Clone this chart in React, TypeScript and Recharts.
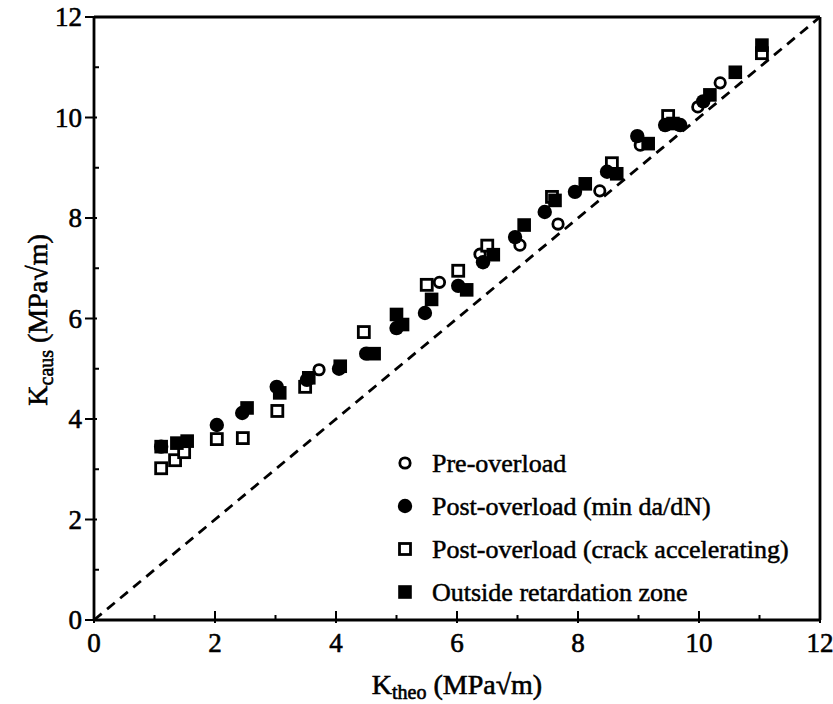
import React from 'react';
import { ScatterChart, Scatter, XAxis, YAxis, ReferenceLine, Legend } from 'recharts';

const FONT = '"Liberation Serif", "Times New Roman", serif';

const axisTicks = [0, 1, 2, 3, 4, 5, 6, 7, 8, 9, 10, 11, 12];
const seriesNames = [
  'Pre-overload',
  'Post-overload (min da/dN)',
  'Post-overload (crack accelerating)',
  'Outside retardation zone',
];

// Pre-overload (open circles)
const preX = [3.72, 5.71, 6.38, 7.04, 7.67, 8.36, 9.03, 9.98, 10.35];
const preY = [4.98, 6.72, 7.28, 7.46, 7.88, 8.54, 9.45, 10.21, 10.69];

// Post-overload (min da/dN) (filled circles)
const minX = [1.11, 2.03, 2.45, 3.02, 3.52, 4.05, 4.5, 5.0, 5.47, 6.02, 6.43, 6.96, 7.45, 7.95, 8.48, 8.98, 9.44, 9.69, 10.07];
const minY = [3.45, 3.88, 4.12, 4.64, 4.78, 5.0, 5.3, 5.81, 6.11, 6.65, 7.12, 7.62, 8.12, 8.52, 8.92, 9.63, 9.85, 9.85, 10.32];

// Post-overload (crack accelerating) (open squares)
const accX = [1.11, 1.34, 1.49, 2.03, 2.46, 3.03, 3.49, 4.46, 5.5, 6.02, 6.5, 7.57, 8.56, 9.49, 11.04];
const accY = [3.02, 3.18, 3.34, 3.6, 3.62, 4.16, 4.64, 5.73, 6.67, 6.95, 7.45, 8.42, 9.09, 10.03, 11.28];

// Outside retardation zone (filled squares)
const outX = [1.11, 1.37, 1.54, 2.53, 3.07, 3.55, 4.07, 4.63, 5.0, 5.1, 5.58, 6.16, 6.6, 7.11, 7.62, 8.12, 8.64, 9.16, 9.57, 10.18, 10.6, 11.04];
const outY = [3.45, 3.52, 3.56, 4.22, 4.52, 4.82, 5.05, 5.3, 6.08, 5.88, 6.38, 6.57, 7.27, 7.86, 8.35, 8.68, 8.88, 9.48, 9.88, 10.45, 10.9, 11.44];

const toPoints = (xs: number[], ys: number[]) => xs.map((x, i) => ({ x, y: ys[i] }));

const preData = toPoints(preX, preY);
const minData = toPoints(minX, minY);
const accData = toPoints(accX, accY);
const outData = toPoints(outX, outY);

const OpenCircle = (p: any) => (
  <circle cx={p.cx} cy={p.cy} r={5.2} fill="#fff" stroke="#000" strokeWidth={2.8} />
);
const FilledCircle = (p: any) => <circle cx={p.cx} cy={p.cy} r={7.2} fill="#000" />;
const OpenSquare = (p: any) => (
  <rect x={p.cx - 5.5} y={p.cy - 5.5} width={11} height={11} fill="#fff" stroke="#000" strokeWidth={2.8} />
);
const FilledSquare = (p: any) => <rect x={p.cx - 6.8} y={p.cy - 6.8} width={13.6} height={13.6} fill="#000" />;

const legendShapes = [OpenCircle, FilledCircle, OpenSquare, FilledSquare];

const textInk = { stroke: '#000', strokeWidth: 0.6 };

const BottomTick = (props: any) => {
  const { x, y, payload } = props;
  const v = payload.value;
  const major = v % 2 === 0;
  return (
    <g>
      <line x1={x} x2={x} y1={y + (major ? 3 : 0)} y2={y - (major ? 9 : 5)} stroke="#000" strokeWidth={2} />
      {major && (
        <text x={x} y={y + 32} textAnchor="middle" fontSize={27} fontFamily={FONT} fill="#000" {...textInk}>
          {v}
        </text>
      )}
    </g>
  );
};

const LeftTick = (props: any) => {
  const { x, y, payload } = props;
  const v = payload.value;
  const major = v % 2 === 0;
  return (
    <g>
      <line x1={major ? x - 9 : x} x2={major ? x + 3 : x + 5} y1={y} y2={y} stroke="#000" strokeWidth={2} />
      {major && (
        <text x={x - 12} y={y + 9} textAnchor="end" fontSize={27} fontFamily={FONT} fill="#000" {...textInk}>
          {v}
        </text>
      )}
    </g>
  );
};

const TopTick = (props: any) => {
  const { x, y, payload } = props;
  const major = payload.value % 2 === 0;
  return <line x1={x} x2={x} y1={y} y2={y + (major ? 7 : 4)} stroke="#000" strokeWidth={2} />;
};

const RightTick = (props: any) => {
  const { x, y, payload } = props;
  const major = payload.value % 2 === 0;
  return <line x1={x} x2={x - (major ? 7 : 4)} y1={y} y2={y} stroke="#000" strokeWidth={2} />;
};

const renderLegend = () => (
  <div style={{ fontFamily: FONT, fontSize: 26, color: '#000', WebkitTextStroke: '0.5px #000' }}>
    {seriesNames.map((name, i) => {
      const Shape = legendShapes[i];
      return (
        <div key={name} style={{ display: 'flex', alignItems: 'center', height: 43, lineHeight: '43px', whiteSpace: 'nowrap' }}>
          <svg width={20} height={20} style={{ flex: 'none' }}>
            <Shape cx={10} cy={10} />
          </svg>
          <span style={{ marginLeft: 17 }}>{name}</span>
        </div>
      );
    })}
  </div>
);

const XTitle = () => (
  <text x={457} y={694} textAnchor="middle" fontSize={28} fontFamily={FONT} fill="#000" {...textInk}>
    <tspan>K</tspan>
    <tspan dy={5} fontSize={20}>theo</tspan>
    <tspan dy={-5}> (MPa√m)</tspan>
  </text>
);

const YTitle = () => (
  <text transform="translate(47, 320) rotate(-90)" x={0} y={0} textAnchor="middle" fontSize={28} fontFamily={FONT} fill="#000" {...textInk}>
    <tspan>K</tspan>
    <tspan dy={6} fontSize={20}>caus</tspan>
    <tspan dy={-6}> (MPa√m)</tspan>
  </text>
);

const axisLineStyle = { stroke: '#000', strokeWidth: 2.8 };

export default function App() {
  return (
    <div style={{ position: 'fixed', left: 0, top: 0, background: '#fff' }}>
      <ScatterChart width={833} height={704} margin={{ top: 12, right: 8, bottom: 54, left: 34 }}>
        <XAxis
          type="number"
          dataKey="x"
          domain={[0, 12]}
          ticks={axisTicks}
          interval={0}
          height={30}
          tickSize={0}
          tickMargin={0}
          tickLine={false}
          axisLine={axisLineStyle}
          tick={<BottomTick />}
          allowDataOverflow
        />
        <XAxis
          xAxisId="top"
          orientation="top"
          type="number"
          domain={[0, 12]}
          ticks={axisTicks}
          interval={0}
          height={5}
          tickSize={0}
          tickMargin={0}
          tickLine={false}
          axisLine={axisLineStyle}
          tick={<TopTick />}
        />
        <YAxis
          type="number"
          dataKey="y"
          domain={[0, 12]}
          ticks={axisTicks}
          interval={0}
          width={60}
          tickSize={0}
          tickMargin={0}
          tickLine={false}
          axisLine={axisLineStyle}
          tick={<LeftTick />}
          allowDataOverflow
        />
        <YAxis
          yAxisId="right"
          orientation="right"
          type="number"
          domain={[0, 12]}
          ticks={axisTicks}
          interval={0}
          width={5}
          tickSize={0}
          tickMargin={0}
          tickLine={false}
          axisLine={axisLineStyle}
          tick={<RightTick />}
        />
        <ReferenceLine
          segment={[{ x: 0, y: 0 }, { x: 12, y: 12 }]}
          stroke="#000"
          strokeWidth={2.8}
          strokeDasharray="10 7"
          ifOverflow="visible"
        />
        <Scatter name={seriesNames[0]} data={preData} shape={<OpenCircle />} isAnimationActive={false} />
        <Scatter name={seriesNames[2]} data={accData} shape={<OpenSquare />} isAnimationActive={false} />
        <Scatter name={seriesNames[1]} data={minData} shape={<FilledCircle />} isAnimationActive={false} />
        <Scatter name={seriesNames[3]} data={outData} shape={<FilledSquare />} isAnimationActive={false} />
        <Legend
          layout="vertical"
          align="center"
          verticalAlign="middle"
          content={renderLegend}
          wrapperStyle={{ left: 395, top: 441.5, width: 430, height: 'auto', margin: 0, padding: 0 }}
        />
        <XTitle />
        <YTitle />
      </ScatterChart>
    </div>
  );
}
